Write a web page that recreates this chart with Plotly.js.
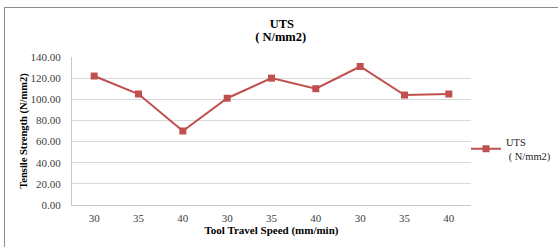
<!DOCTYPE html>
<html>
<head>
<meta charset="utf-8">
<script src="https://cdn.plot.ly/plotly-3.0.1.min.js"></script>
<style>
html,body{margin:0;padding:0;background:#fff;overflow:hidden;}
#wrap{position:relative;width:558px;height:247px;}
#chart{position:absolute;left:0;top:0;width:558px;height:247px;}
#frame{position:absolute;left:4px;top:7px;width:600px;height:300px;border:1.5px solid #8c8c8c;pointer-events:none;box-sizing:border-box;}
</style>
</head>
<body>
<div id="wrap">
<div id="chart"></div>
<div id="frame"></div>
</div>
<script>
var speedLabels = ["30","35","40","30","35","40","30","35","40"];
var utsValues = [122, 105, 70, 101, 120, 110, 131, 104, 105];
var positions = speedLabels.map(function(_, i){ return i; });
var titleMain = "UTS";
var titleUnit = " ( N/mm2)";

var serif = "Liberation Serif, Times New Roman, serif";

var trace = {
  x: positions,
  y: utsValues,
  type: "scatter",
  mode: "lines+markers",
  name: titleMain + "<br>" + titleUnit,
  line: {color: "#C0504D", width: 2},
  marker: {color: "#C0504D", symbol: "square", size: 7}
};

var layout = {
  width: 558, height: 247,
  margin: {l: 72, r: 87, t: 57, b: 42, autoexpand: false},
  paper_bgcolor: "#fff", plot_bgcolor: "#fff",
  font: {family: serif, size: 11, color: "#262626"},
  title: {
    text: "<b>" + titleMain + "</b>",
    font: {family: serif, size: 12.5, color: "#000"},
    x: 0.505, xref: "container", xanchor: "center",
    y: 1 - 24/247, yref: "container", yanchor: "middle"
  },
  annotations: [{
    text: "<b>" + titleUnit + "</b>",
    font: {family: serif, size: 12.5, color: "#000"},
    xref: "paper", yref: "paper",
    x: (279 - 72) / 399, y: 1 + (57 - 37) / 148,
    xanchor: "center", yanchor: "middle", showarrow: false
  }],
  showlegend: true,
  legend: {
    xref: "container", yref: "container",
    x: 466 / 558, xanchor: "left", y: 1 - 149/247, yanchor: "middle",
    font: {family: serif, size: 10.5, color: "#262626"},
    bgcolor: "rgba(0,0,0,0)", borderwidth: 0,
    itemwidth: 30, tracegroupgap: 0
  },
  xaxis: {
    range: [-0.5, 8.5],
    tickmode: "array",
    tickvals: positions,
    ticktext: speedLabels,
    showgrid: false, zeroline: false,
    showline: true, linecolor: "#c8c8c8", linewidth: 1,
    ticks: "", ticklabelstandoff: 3,
    tickfont: {family: serif, size: 11, color: "#404040"},
    title: {text: "<b>Tool Travel Speed (mm/min)</b>", font: {family: serif, size: 11, color: "#000"}, standoff: 3},
    fixedrange: true
  },
  yaxis: {
    range: [0, 140],
    tickmode: "linear", tick0: 0, dtick: 20,
    tickformat: ".2f",
    showgrid: true, gridcolor: "#d9d9d9", gridwidth: 1,
    zeroline: false,
    showline: true, linecolor: "#c8c8c8", linewidth: 1,
    ticks: "", ticklabelstandoff: 8,
    tickfont: {family: serif, size: 11, color: "#404040"},
    title: {text: "<b>Tensile Strength (N/mm2)</b>", font: {family: serif, size: 10.5, color: "#000"}, standoff: 0},
    fixedrange: true
  }
};

Plotly.newPlot("chart", [trace], layout, {displayModeBar: false, staticPlot: true});
</script>
</body>
</html>
